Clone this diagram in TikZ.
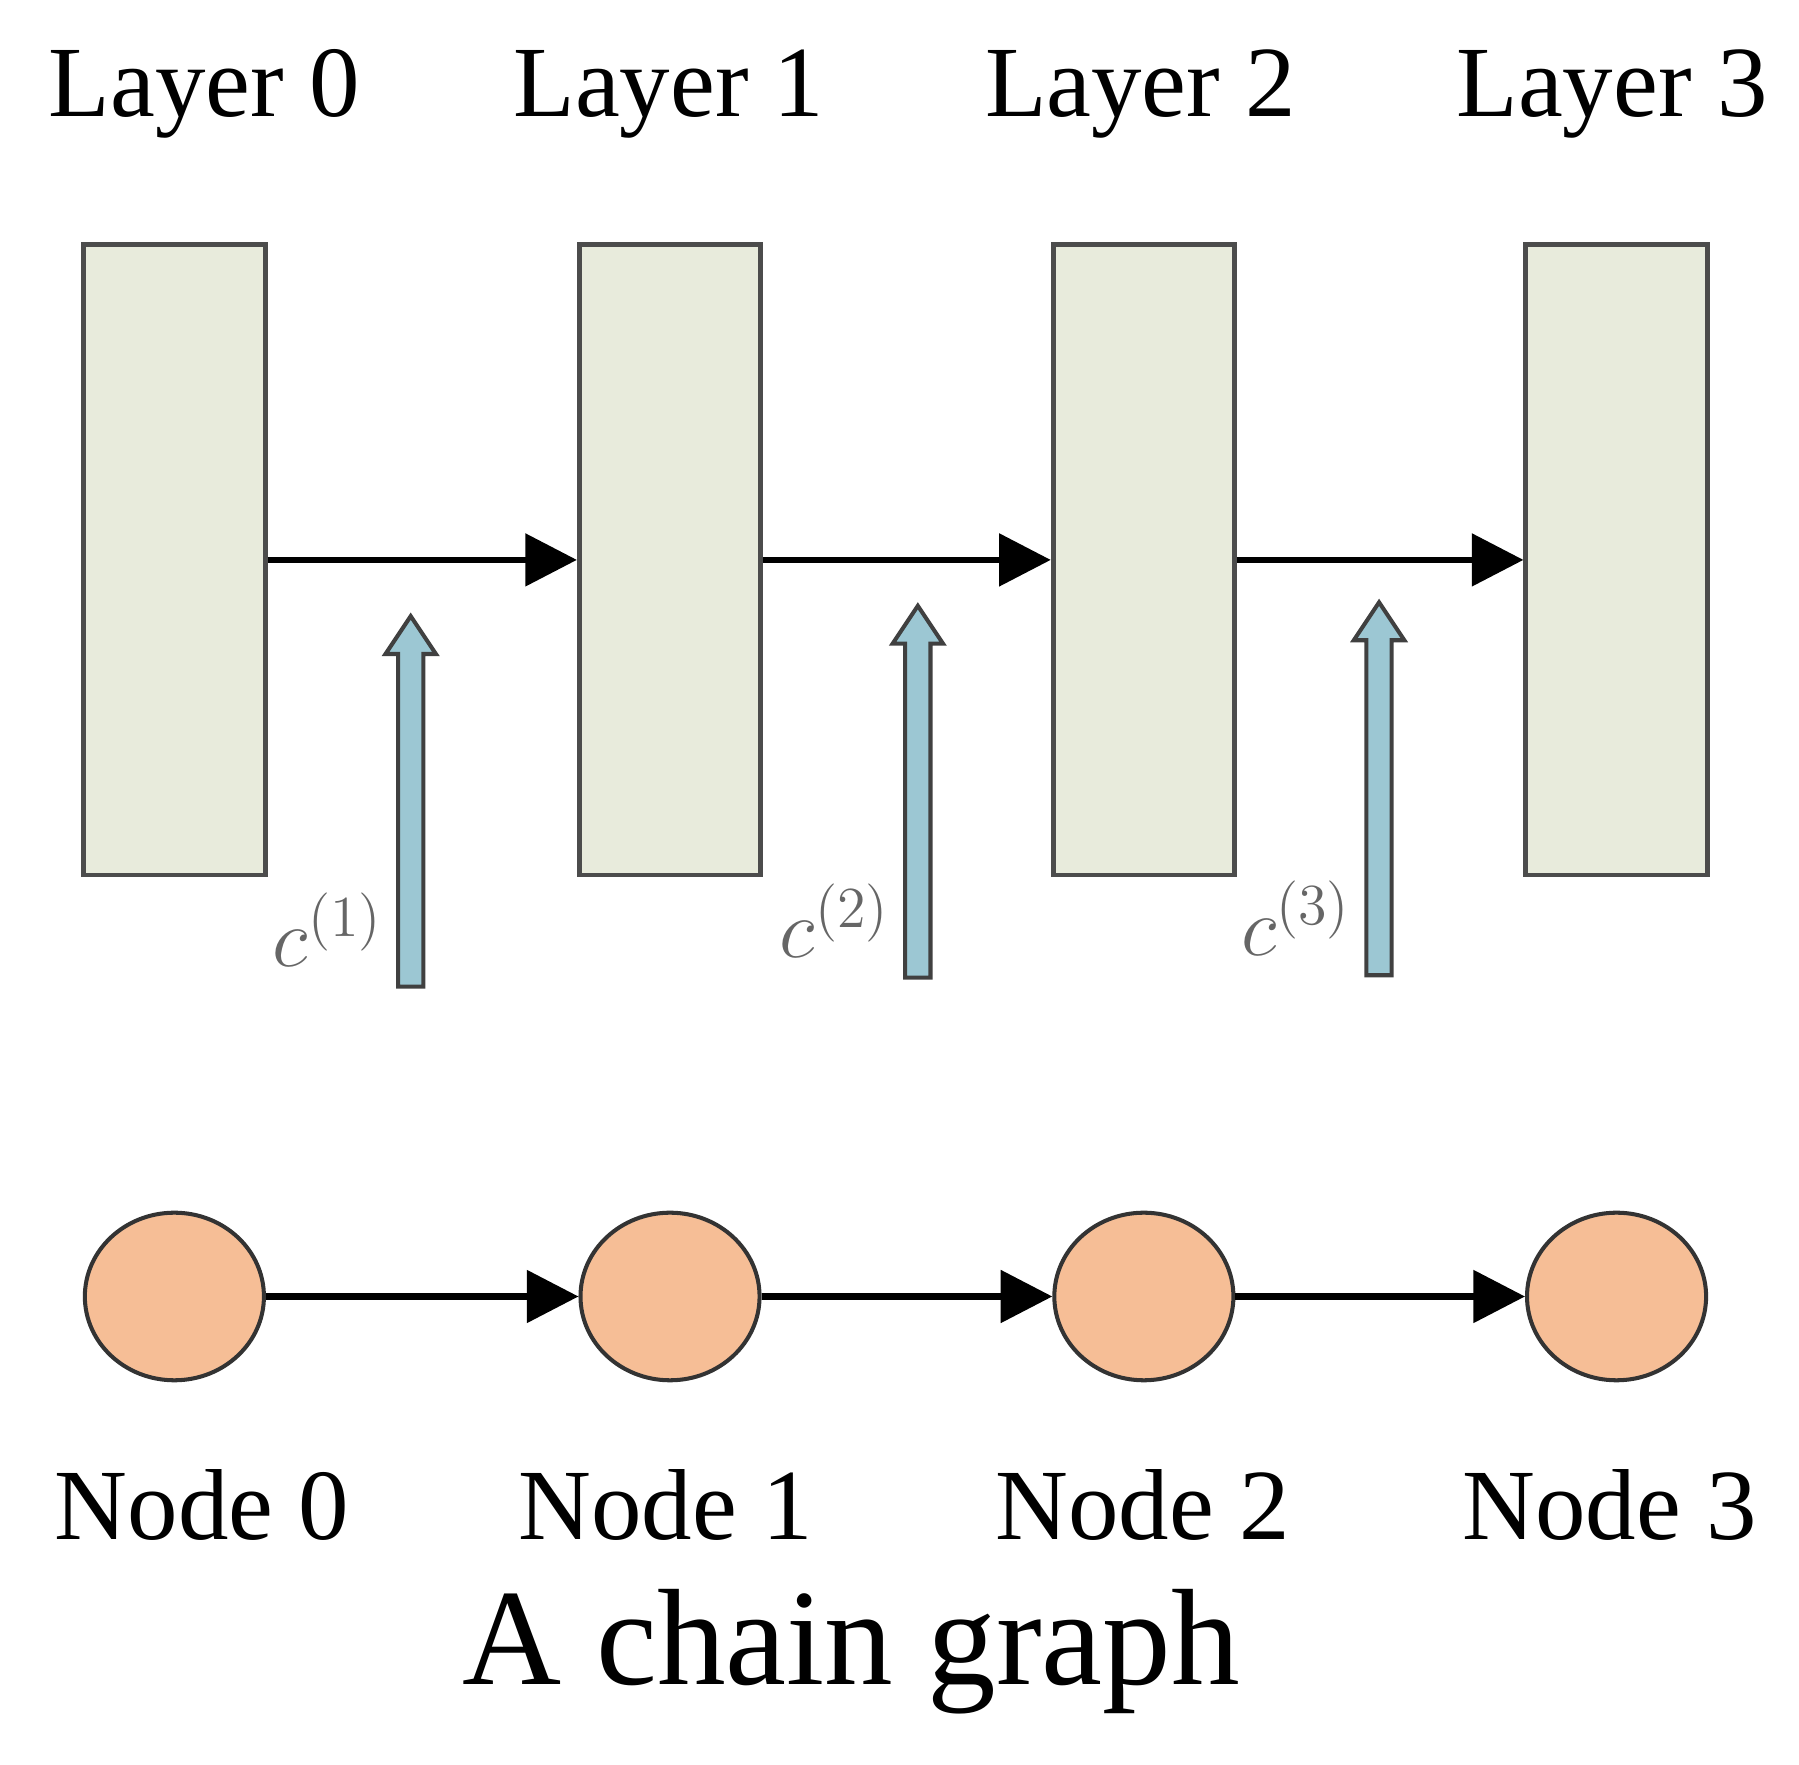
\documentclass[tikz,border=0pt]{standalone}
\usepackage{fontspec}
\setmainfont{Liberation Serif}
\usetikzlibrary{arrows.meta,shapes.geometric}
\definecolor{boxfill}{HTML}{E8EBDC}
\definecolor{circfill}{HTML}{F6BE96}
\definecolor{bluefill}{HTML}{9CC7D3}
\begin{document}
\begin{tikzpicture}[x=0.01cm,y=-0.01cm,
  layer/.style={draw=black!70,line width=1.2pt,fill=boxfill,minimum width=1.58cm,minimum height=5.49cm,inner sep=0},
  gnode/.style={draw=black!80,line width=1pt,fill=circfill,ellipse,minimum width=1.56cm,minimum height=1.46cm,inner sep=0},
  lbl/.style={font=\fontsize{25}{28}\selectfont},
  conn/.style={line width=1.6pt,-{Triangle[length=0.45cm,width=0.45cm]}},
  clbl/.style={text=black!60,font=\fontsize{20}{22}\selectfont}]
\useasboundingbox (0,0) rectangle (1568,1538);
\foreach \i/\x/\lo/\no in {0/152/26/24,1/584/-1/-4,2/997/-3/-1,3/1409/-4/-6}{
  \node[layer] (L\i) at (\x,488) {};
  \node[gnode] (N\i) at (\x,1130) {};
  \node[lbl] (LT\i) at (\x+\lo,82) {Layer \i};
  \node[lbl] (NT\i) at (\x+\no,1312) {Node \i};
}
\node[font=\fontsize{34}{38}\selectfont] (title) at (742,1440) {A chain graph};
\foreach \a/\b in {0/1,1/2,2/3}{
  \draw[conn] (L\a.east) -- (L\b.west);
  \draw[conn] (N\a.east) -- (N\b.west);
}
\foreach \i/\x/\ya/\yb in {1/358/860/537,2/800/852/528,3/1202/850/525}{
  \coordinate (B\i) at (\x,\ya);
  \coordinate (T\i) at (\x,\yb);
  \draw[draw=black!75,line width=1pt,fill=bluefill]
    ([xshift=-0.11cm]B\i) -- ([xshift=-0.11cm,yshift=-0.33cm]T\i) -- ([xshift=-0.22cm,yshift=-0.33cm]T\i)
    -- (T\i) -- ([xshift=0.22cm,yshift=-0.33cm]T\i) -- ([xshift=0.11cm,yshift=-0.33cm]T\i)
    -- ([xshift=0.11cm]B\i) -- cycle;
  \node[clbl,anchor=south east] (C\i) at ([xshift=-0.12cm,yshift=0.05cm]B\i) {$c^{(\i)}$};
}
\end{tikzpicture}
\end{document}
